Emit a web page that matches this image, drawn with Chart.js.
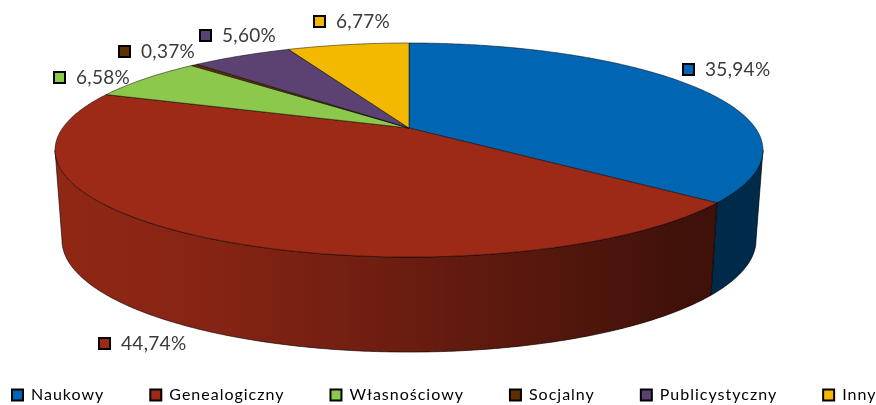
<!DOCTYPE html>
<html>
<head>
<meta charset="utf-8">
<style>html,body{margin:0;padding:0;background:#fff}canvas{display:block;filter:blur(0.35px)}</style>
<script src="https://cdn.jsdelivr.net/npm/chart.js@4"></script>
</head>
<body>
<canvas id="c" width="876" height="405" style="width:876px;height:405px"></canvas>
<script>
const categories = ["Naukowy", "Genealogiczny", "Własnościowy", "Socjalny", "Publicystyczny", "Inny"];
const values = [35.94, 44.74, 6.58, 0.37, 5.60, 6.77];
const valueLabels = ["35,94%", "44,74%", "6,58%", "0,37%", "5,60%", "6,77%"];
const colors = ["#0066B3", "#9C2A17", "#8BC84B", "#5F2F00", "#5B4273", "#F3B800"];

// view settings of the tilted disc (perspective projection of the unit circle)
const topFace = {cx: 409, cy: 128, a: 102.5, b: 346.4, k: 0.2056};
const baseFace = {cx: 409, cy: 217, a: 107.3, b: 339.6, k: 0.2056};
// callout box left/top for each slice
const calloutX = [682, 98, 53, 118, 199, 313];
const calloutY = [63, 337, 71, 45, 29, 15];
const legendGap = 46;
const legendSpacing = '1px';

function project(f, theta) {
  const u = Math.sin(theta), v = Math.cos(theta), w = 1 + f.k * v;
  return [f.cx + f.b * u / w, f.cy - f.a * v / w];
}
function sweep(ctx, f, from, to) {
  const n = Math.max(2, Math.ceil(Math.abs(to - from) / 0.01));
  for (let i = 0; i <= n; i++) {
    const p = project(f, from + (to - from) * i / n);
    ctx.lineTo(p[0], p[1]);
  }
}
const disc3d = {
  id: 'disc3d',
  beforeLayout(chart) {
    chart.ctx.letterSpacing = legendSpacing;
    const lg = chart.legend;
    if (lg && !lg._patched) {
      const fit = lg.fit;
      lg.fit = function () { const w = this.maxWidth; this.maxWidth = 2000; fit.call(this); this.maxWidth = w; };
      lg._patched = true;
    }
  },
  afterLayout(chart) {
    const lg = chart.legend;
    lg.left = 12 - legendGap; lg.right = 2000;
    lg.top = 395 - legendGap - 8; lg.bottom = lg.top + 2 * legendGap + 16;
  },
  beforeDraw(chart) { chart.ctx.letterSpacing = legendSpacing; },
  beforeDatasetsDraw(chart) {
    const ctx = chart.ctx, arcs = chart.getDatasetMeta(0).data;
    const ang = arcs.map(a => [a.startAngle + Math.PI / 2, a.endAngle + Math.PI / 2]);
    const front0 = Math.acos(-topFace.k), front1 = 2 * Math.PI - front0;
    ctx.save();
    // side walls: only the part of each slice that faces the viewer
    arcs.forEach((arc, i) => {
      const s = Math.max(ang[i][0], front0), e = Math.min(ang[i][1], front1);
      if (e <= s) return;
      ctx.beginPath();
      sweep(ctx, topFace, s, e);
      sweep(ctx, baseFace, e, s);
      ctx.closePath();
      ctx.fillStyle = colors[i];
      ctx.fill();
      const g = ctx.createLinearGradient(55, 0, 763, 0);
      g.addColorStop(0, 'rgba(0,0,0,0.07)');
      g.addColorStop(0.23, 'rgba(0,0,0,0.15)');
      g.addColorStop(0.5, 'rgba(0,0,0,0.32)');
      g.addColorStop(0.9, 'rgba(0,0,0,0.6)');
      g.addColorStop(1, 'rgba(0,0,0,0.58)');
      ctx.fillStyle = g;
      ctx.fill();
      ctx.strokeStyle = 'rgba(0,0,0,0.75)';
      ctx.lineWidth = 0.8;
      ctx.stroke();
    });
    // top faces
    arcs.forEach((arc, i) => {
      const [s, e] = ang[i];
      ctx.beginPath();
      ctx.moveTo(topFace.cx, topFace.cy);
      sweep(ctx, topFace, s, e);
      ctx.closePath();
      ctx.fillStyle = colors[i];
      ctx.fill();
      ctx.strokeStyle = 'rgba(0,0,0,0.7)';
      ctx.lineWidth = 0.7;
      ctx.stroke();
    });
    // callouts
    ctx.letterSpacing = '0.3px';
    ctx.font = '19px Lato, sans-serif';
    ctx.textBaseline = 'middle';
    ctx.textAlign = 'left';
    arcs.forEach((arc, i) => {
      const x = calloutX[i], y = calloutY[i];
      ctx.fillStyle = colors[i];
      ctx.strokeStyle = '#000';
      ctx.lineWidth = 2;
      ctx.fillRect(x + 1, y + 1, 11, 11);
      ctx.strokeRect(x + 1, y + 1, 11, 11);
      ctx.fillStyle = '#3a3a3a';
      ctx.fillText(valueLabels[i], x + 23, y + 7);
    });
    ctx.restore();
    return false;
  }
};

new Chart(document.getElementById('c'), {
  type: 'pie',
  data: {labels: categories, datasets: [{data: values, backgroundColor: colors, borderWidth: 0}]},
  options: {
    responsive: false,
    animation: false,
    layout: {padding: 0},
    plugins: {
      tooltip: {enabled: false},
      legend: {
        position: 'bottom',
        align: 'start',
        labels: {
          boxWidth: 11, boxHeight: 11, padding: legendGap,
          color: '#1a1a1a',
          font: {family: 'Lato, sans-serif', size: 16},
          generateLabels(chart) {
            return categories.map((t, i) => ({
              text: t, fillStyle: colors[i], strokeStyle: '#000', lineWidth: 2, hidden: false, index: i
            }));
          }
        }
      }
    }
  },
  plugins: [disc3d]
});
</script>
</body>
</html>
